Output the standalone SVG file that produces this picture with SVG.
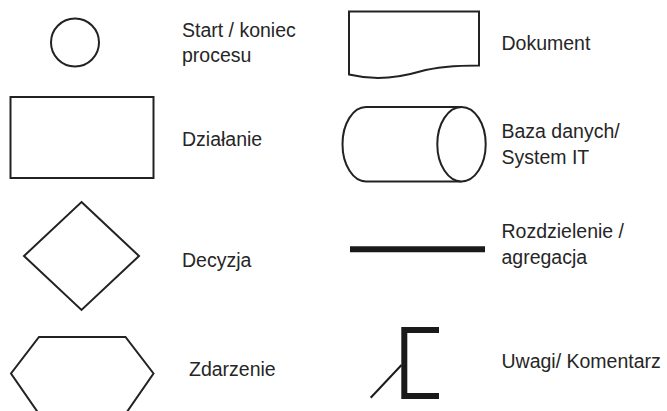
<svg xmlns="http://www.w3.org/2000/svg" width="667" height="411" viewBox="0 0 667 411">
  <style>
    .shape { fill: #fff; stroke: #222; stroke-width: 2; stroke-linejoin: miter; }
    .heavy { fill: none; stroke: #1a1a1a; stroke-width: 6; }
    .thin { fill: none; stroke: #1a1a1a; stroke-width: 2; }
    .label { font-family: "Liberation Sans", Arial, sans-serif; font-size: 19.5px; fill: #262626; }
  </style>
  <rect width="667" height="411" fill="#fff"/>

  <!-- Start / end of process -->
  <g id="start-end">
    <circle class="shape" cx="75" cy="42.5" r="24"/>
    <text class="label" x="182" y="36.5">Start / koniec</text>
    <text class="label" x="182" y="62">procesu</text>
  </g>

  <!-- Action -->
  <g id="action">
    <rect class="shape" x="10.5" y="97" width="143" height="81"/>
    <text class="label" x="182" y="145.5">Działanie</text>
  </g>

  <!-- Decision -->
  <g id="decision">
    <polygon class="shape" points="81.5,202 139,256 81.5,310 24,256"/>
    <text class="label" x="182" y="267">Decyzja</text>
  </g>

  <!-- Event (lower edge runs past the bottom border) -->
  <g id="event">
    <polygon class="shape" points="39,337 125.5,337 153.5,373.5 125.5,414 39,414 11,373.5"/>
    <text class="label" x="189" y="375.5">Zdarzenie</text>
  </g>

  <!-- Document -->
  <g id="document">
    <path class="shape" d="M349,74.5 V11.5 H479 V65.5 C460,65.5 440,66 420,71.5 C398,78 372,80 349,74.5 Z"/>
    <text class="label" x="501.5" y="50">Dokument</text>
  </g>

  <!-- Database / IT system -->
  <g id="database">
    <path class="shape" d="M461.5,107 H366 A23.5,37.2 0 0 0 366,181.4 H461.5"/>
    <ellipse class="shape" cx="461.5" cy="144.2" rx="24.2" ry="37.2"/>
    <text class="label" x="501.5" y="138.3">Baza danych/</text>
    <text class="label" x="501.5" y="164.3">System IT</text>
  </g>

  <!-- Split / join bar -->
  <g id="split-join">
    <line class="heavy" x1="350" y1="249.3" x2="485" y2="249.3" stroke-width="5.5"/>
    <text class="label" x="501.5" y="238.3">Rozdzielenie /</text>
    <text class="label" x="501.5" y="264">agregacja</text>
  </g>

  <!-- Note / comment -->
  <g id="comment">
    <path class="heavy" d="M439,330 H404.3 V396 H439"/>
    <line class="thin" x1="370.7" y1="397.7" x2="401.5" y2="365"/>
    <text class="label" x="501.5" y="368">Uwagi/ Komentarz</text>
  </g>

  <g id="connectors"/>
</svg>
